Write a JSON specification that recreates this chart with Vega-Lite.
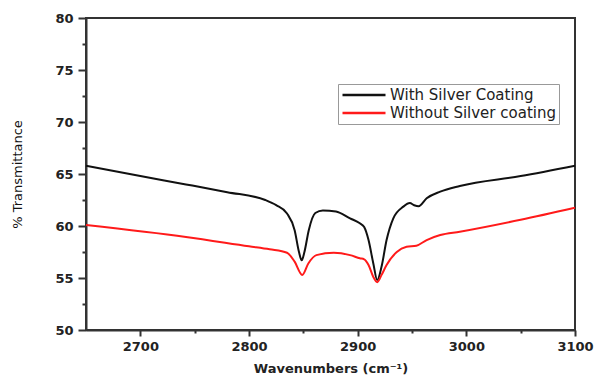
{
  "$schema": "https://vega.github.io/schema/vega-lite/v6.json",
  "autosize": {"type": "none"},
  "padding": {"left": 86, "top": 18, "right": 23, "bottom": 54},
  "width": 489,
  "height": 312,
  "background": "white",
  "config": {
    "view": {"stroke": "#333", "strokeWidth": 2},
    "font": "DejaVu Sans"
  },
  "data": {
    "values": [
      {"w": 2650, "t": 65.8, "s": "With Silver Coating"},
      {"w": 2700, "t": 64.8, "s": "With Silver Coating"},
      {"w": 2742, "t": 64.0, "s": "With Silver Coating"},
      {"w": 2780, "t": 63.25, "s": "With Silver Coating"},
      {"w": 2815, "t": 62.5, "s": "With Silver Coating"},
      {"w": 2825, "t": 62.0, "s": "With Silver Coating"},
      {"w": 2835, "t": 61.2, "s": "With Silver Coating"},
      {"w": 2842, "t": 59.6, "s": "With Silver Coating"},
      {"w": 2846, "t": 57.5, "s": "With Silver Coating"},
      {"w": 2848.5, "t": 56.7, "s": "With Silver Coating"},
      {"w": 2851, "t": 57.5, "s": "With Silver Coating"},
      {"w": 2855, "t": 59.6, "s": "With Silver Coating"},
      {"w": 2861, "t": 61.25, "s": "With Silver Coating"},
      {"w": 2868, "t": 61.5, "s": "With Silver Coating"},
      {"w": 2880, "t": 61.4, "s": "With Silver Coating"},
      {"w": 2893, "t": 60.74, "s": "With Silver Coating"},
      {"w": 2902, "t": 60.26, "s": "With Silver Coating"},
      {"w": 2906, "t": 59.9, "s": "With Silver Coating"},
      {"w": 2910, "t": 58.65, "s": "With Silver Coating"},
      {"w": 2914.4, "t": 56.4, "s": "With Silver Coating"},
      {"w": 2918, "t": 54.8, "s": "With Silver Coating"},
      {"w": 2922, "t": 56.1, "s": "With Silver Coating"},
      {"w": 2926.6, "t": 58.65, "s": "With Silver Coating"},
      {"w": 2932.8, "t": 60.74, "s": "With Silver Coating"},
      {"w": 2942, "t": 61.86, "s": "With Silver Coating"},
      {"w": 2948, "t": 62.2, "s": "With Silver Coating"},
      {"w": 2952, "t": 62.0, "s": "With Silver Coating"},
      {"w": 2956, "t": 61.9, "s": "With Silver Coating"},
      {"w": 2963.5, "t": 62.66, "s": "With Silver Coating"},
      {"w": 2976, "t": 63.3, "s": "With Silver Coating"},
      {"w": 2994, "t": 63.85, "s": "With Silver Coating"},
      {"w": 3050, "t": 64.8, "s": "With Silver Coating"},
      {"w": 3100, "t": 65.8, "s": "With Silver Coating"},
      {"w": 2650, "t": 60.1, "s": "Without Silver coating"},
      {"w": 2742, "t": 58.95, "s": "Without Silver coating"},
      {"w": 2800, "t": 58.05, "s": "Without Silver coating"},
      {"w": 2819, "t": 57.76, "s": "Without Silver coating"},
      {"w": 2835, "t": 57.43, "s": "Without Silver coating"},
      {"w": 2842, "t": 56.57, "s": "Without Silver coating"},
      {"w": 2849, "t": 55.3, "s": "Without Silver coating"},
      {"w": 2854.6, "t": 56.4, "s": "Without Silver coating"},
      {"w": 2862, "t": 57.2, "s": "Without Silver coating"},
      {"w": 2878, "t": 57.43, "s": "Without Silver coating"},
      {"w": 2893, "t": 57.2, "s": "Without Silver coating"},
      {"w": 2902, "t": 56.9, "s": "Without Silver coating"},
      {"w": 2906, "t": 56.8, "s": "Without Silver coating"},
      {"w": 2910, "t": 56.25, "s": "Without Silver coating"},
      {"w": 2914.4, "t": 55.1, "s": "Without Silver coating"},
      {"w": 2918, "t": 54.6, "s": "Without Silver coating"},
      {"w": 2922, "t": 55.3, "s": "Without Silver coating"},
      {"w": 2926.6, "t": 56.25, "s": "Without Silver coating"},
      {"w": 2936, "t": 57.5, "s": "Without Silver coating"},
      {"w": 2945, "t": 58.0, "s": "Without Silver coating"},
      {"w": 2954, "t": 58.1, "s": "Without Silver coating"},
      {"w": 2963.5, "t": 58.65, "s": "Without Silver coating"},
      {"w": 2976, "t": 59.13, "s": "Without Silver coating"},
      {"w": 2994, "t": 59.45, "s": "Without Silver coating"},
      {"w": 3050, "t": 60.6, "s": "Without Silver coating"},
      {"w": 3100, "t": 61.76, "s": "Without Silver coating"}
    ]
  },
  "mark": {"type": "line", "interpolate": "monotone", "strokeWidth": 2},
  "encoding": {
    "x": {
      "field": "w",
      "type": "quantitative",
      "scale": {"domain": [2650, 3100], "nice": false, "zero": false},
      "axis": {
        "title": "Wavenumbers (cm⁻¹)",
        "values": [2700, 2750, 2800, 2850, 2900, 2950, 3000, 3050, 3100],
        "format": "d",
        "labelExpr": "datum.value % 100 == 0 ? datum.label : ''",
        "labelOverlap": false,
        "labelFlush": false,
        "grid": false,
        "domainColor": "#333",
        "domainWidth": 2,
        "tickColor": "#333",
        "tickWidth": 2,
        "tickSize": {"condition": {"test": "datum.value % 100 == 0", "value": 6}, "value": 3},
        "labelFont": "DejaVu Sans",
        "labelFontSize": 13,
        "labelFontWeight": "bold",
        "labelColor": "#222",
        "labelPadding": 4,
        "titleFont": "DejaVu Sans",
        "titleFontSize": 13,
        "titleFontWeight": "bold",
        "titleColor": "#222",
        "titlePadding": 9
      }
    },
    "y": {
      "field": "t",
      "type": "quantitative",
      "scale": {"domain": [50, 80], "nice": false, "zero": false},
      "axis": {
        "title": "% Transmittance",
        "values": [50, 52.5, 55, 57.5, 60, 62.5, 65, 67.5, 70, 72.5, 75, 77.5, 80],
        "labelExpr": "datum.value % 5 == 0 ? format(datum.value, 'd') : ''",
        "labelOverlap": false,
        "labelFlush": false,
        "grid": false,
        "domainColor": "#333",
        "domainWidth": 2,
        "tickColor": "#333",
        "tickWidth": 2,
        "tickSize": {"condition": {"test": "datum.value % 5 == 0", "value": 8}, "value": 4},
        "labelFont": "DejaVu Sans",
        "labelFontSize": 13,
        "labelFontWeight": "bold",
        "labelColor": "#222",
        "labelPadding": 5,
        "titleFont": "DejaVu Sans",
        "titleFontSize": 13,
        "titleFontWeight": "normal",
        "titleColor": "#111",
        "titlePadding": 30
      }
    },
    "color": {
      "field": "s",
      "type": "nominal",
      "scale": {"domain": ["With Silver Coating", "Without Silver coating"], "range": ["#111111", "#ff1a1a"]},
      "legend": {
        "title": null,
        "orient": "none",
        "legendX": 252,
        "legendY": 66,
        "strokeColor": "#999",
        "padding": 3,
        "symbolType": "stroke",
        "symbolSize": 1849,
        "symbolStrokeWidth": 2.5,
        "clipHeight": 16,
        "rowPadding": 2,
        "labelOffset": 3,
        "labelLimit": 300,
        "labelFont": "DejaVu Sans",
        "labelFontSize": 15,
        "labelColor": "#222"
      }
    }
  }
}
